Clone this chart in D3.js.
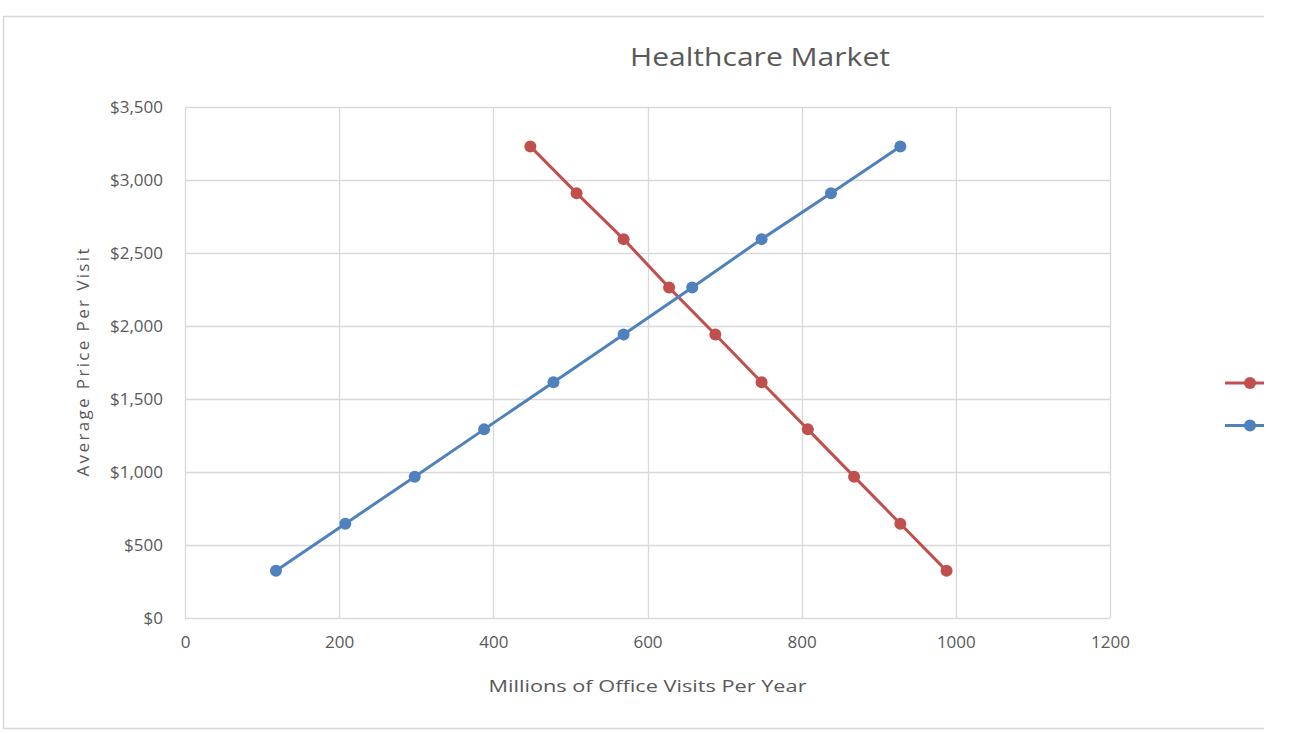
<!DOCTYPE html>
<html>
<head>
<meta charset="utf-8">
<script src="https://cdn.jsdelivr.net/npm/d3@7"></script>
<style>
  body { margin: 0; background: #fff; }
  svg { display: block; }
  text { font-family: "Open Sans", "Noto Sans", sans-serif; fill: #595959; }
</style>
</head>
<body>
<svg id="chart" width="1300" height="734"></svg>
<script>
const title = "Healthcare Market";
const xTitle = "Millions of Office Visits Per Year";
const yTitle = "Average Price Per Visit";
const seriesNames = ["Demand", "Supply"];
const demandX = [448, 508, 569, 628, 688, 748, 808, 868, 928, 988];
const demandY = [3230, 2910, 2595, 2263, 1942, 1615, 1292, 968, 646, 323];
const supplyX = [118, 208, 298, 388, 478, 569, 658, 748, 838, 928];
const supplyY = [323, 646, 968, 1292, 1615, 1942, 2263, 2595, 2910, 3230];
const xTicks = [0, 200, 400, 600, 800, 1000, 1200];
const yTicks = [0, 500, 1000, 1500, 2000, 2500, 3000, 3500];

const colors = ["#C0504D", "#4F81BD"];
const svg = d3.select("#chart");

// clip: picture is cut at x=1263
svg.append("defs").append("clipPath").attr("id", "cut")
  .append("rect").attr("x", 0).attr("y", 0).attr("width", 1264).attr("height", 734);
const root = svg.append("g").attr("clip-path", "url(#cut)");

// outer chart border
root.append("rect").attr("x", 3.5).attr("y", 16.5).attr("width", 1400).attr("height", 712)
  .attr("fill", "none").attr("stroke", "#d9d9d9").attr("stroke-width", 1.5);

const L = 185, R = 1110, T = 107, B = 618;
const x = d3.scaleLinear().domain([0, 1200]).range([L, R]);
const y = d3.scaleLinear().domain([0, 3500]).range([B, T]);

// gridlines
root.append("g").selectAll("line.v").data(xTicks).join("line")
  .attr("x1", d => Math.round(x(d)) + 0.5).attr("x2", d => Math.round(x(d)) + 0.5)
  .attr("y1", T).attr("y2", B)
  .attr("stroke", "#d9d9d9").attr("stroke-width", 1.3);
root.append("g").selectAll("line.h").data(yTicks).join("line")
  .attr("y1", d => Math.round(y(d)) + 0.5).attr("y2", d => Math.round(y(d)) + 0.5)
  .attr("x1", L).attr("x2", R)
  .attr("stroke", "#d9d9d9").attr("stroke-width", 1.3);

// axes (labels only)
const xAxis = d3.axisBottom(x).tickValues(xTicks).tickSize(0).tickPadding(0).tickFormat(d3.format("d"));
const gx = root.append("g").attr("transform", `translate(0,${B + 24})`).call(xAxis);
gx.select(".domain").remove();
gx.selectAll("text").attr("font-size", 17).attr("dy", "0.35em").attr("fill", "#595959")
  .style("font-family", "'Open Sans', sans-serif");

const yAxis = d3.axisLeft(y).tickValues(yTicks).tickSize(0).tickPadding(0).tickFormat(d => "$" + d3.format(",")(d));
const gy = root.append("g").attr("transform", `translate(${L - 22},0)`).call(yAxis);
gy.select(".domain").remove();
gy.selectAll("text").attr("font-size", 17).attr("fill", "#595959")
  .style("font-family", "'Open Sans', sans-serif");

// titles
root.append("text").attr("x", 760).attr("y", 66).attr("text-anchor", "middle")
  .attr("font-size", 25).attr("textLength", 260).attr("lengthAdjust", "spacingAndGlyphs").text(title);
root.append("text").attr("x", (L + R) / 2).attr("y", 692).attr("text-anchor", "middle")
  .attr("font-size", 17).attr("textLength", 318).attr("lengthAdjust", "spacingAndGlyphs").text(xTitle);
root.append("text").attr("transform", `translate(89,${(T + B) / 2}) rotate(-90)`).attr("text-anchor", "middle")
  .attr("font-size", 17).attr("textLength", 228).attr("lengthAdjust", "spacing").text(yTitle);

// series
const series = [
  { name: seriesNames[0], xs: demandX, ys: demandY, color: colors[0] },
  { name: seriesNames[1], xs: supplyX, ys: supplyY, color: colors[1] }
];
const line = d3.line().x(d => x(d[0])).y(d => y(d[1]));
series.forEach(s => {
  const pts = s.xs.map((v, i) => [v, s.ys[i]]);
  root.append("path").datum(pts).attr("d", line)
    .attr("fill", "none").attr("stroke", s.color).attr("stroke-width", 3).attr("stroke-linejoin", "round");
  root.append("g").selectAll("circle").data(pts).join("circle")
    .attr("cx", d => x(d[0])).attr("cy", d => y(d[1])).attr("r", 6).attr("fill", s.color);
});

// legend symbols (the picture is cut at the right edge, names not visible)
const leg = root.append("g");
series.forEach((s, i) => {
  const ly = 383 + i * 42.5;
  leg.append("line").attr("x1", 1225).attr("x2", 1275).attr("y1", ly).attr("y2", ly)
    .attr("stroke", s.color).attr("stroke-width", 3);
  leg.append("circle").attr("cx", 1250).attr("cy", ly).attr("r", 6).attr("fill", s.color);
});
</script>
</body>
</html>
